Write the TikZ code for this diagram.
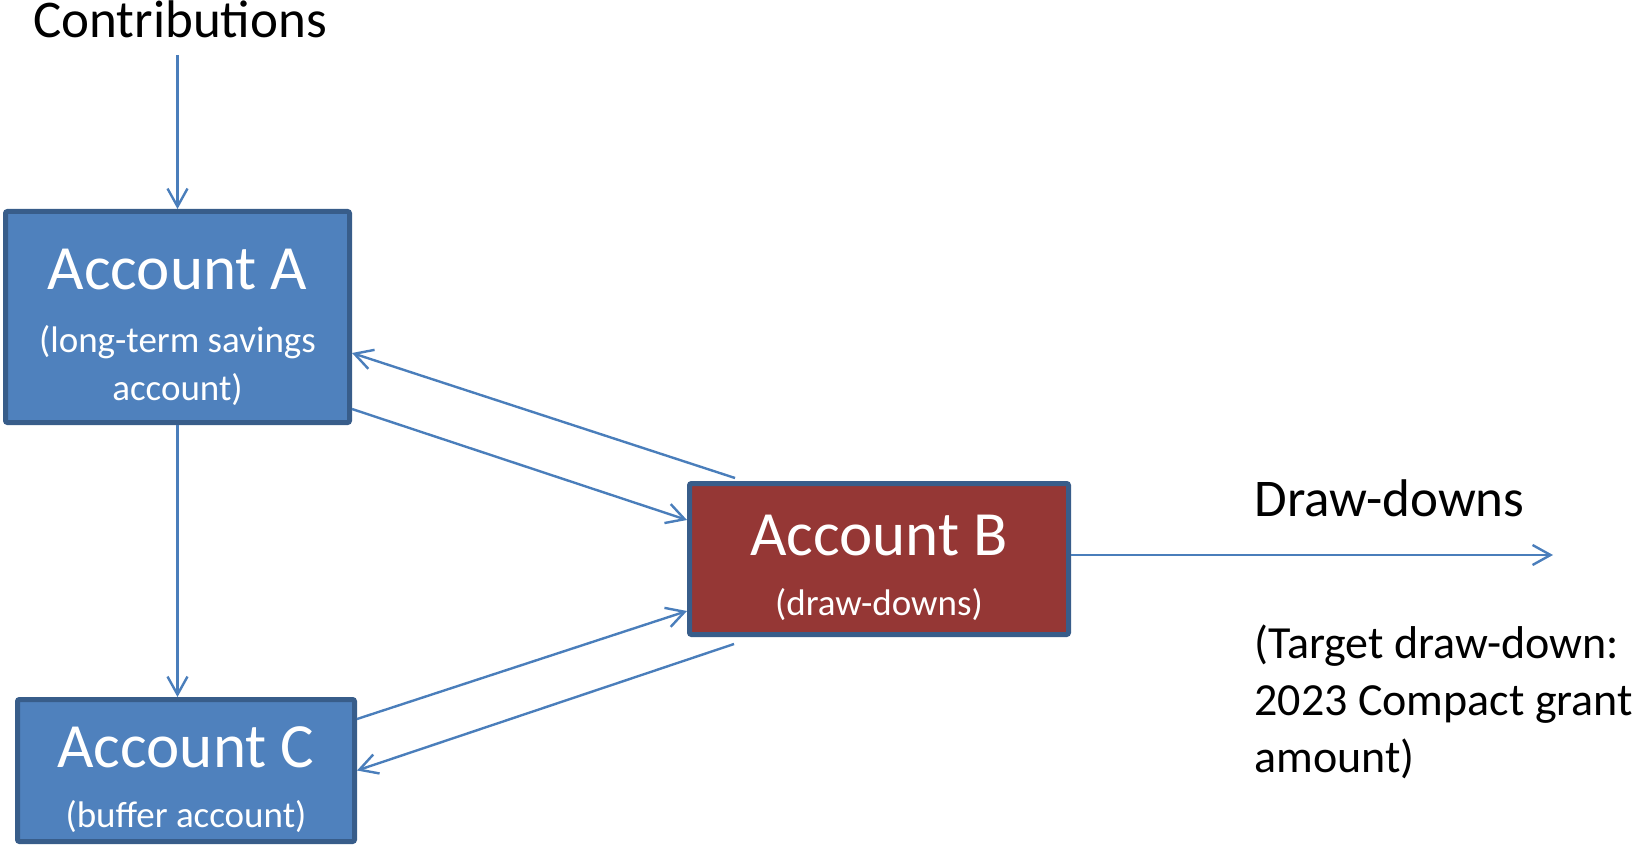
\documentclass[tikz,border=0pt]{standalone}
\usepackage{fontspec}
\setmainfont{Carlito}
\usepackage{xcolor}
\usetikzlibrary{arrows.meta,calc}
\definecolor{acctblue}{HTML}{4F81BD}
\definecolor{acctred}{HTML}{953735}
\definecolor{edgeblue}{HTML}{385D8A}
\definecolor{flowblue}{HTML}{4A7EBB}

\begin{document}
\begin{tikzpicture}[x=0.5pt,y=-0.5pt,
  >={Straight Barb[length=9pt,width=10pt]},
  account/.style={draw=edgeblue,line width=2.5pt,rounded corners=1pt,inner sep=0pt},
  flow/.style={->,draw=flowblue,line width=1.2pt},
  acctname/.style={text=white,font=\fontsize{31.5}{38}\selectfont,inner sep=0pt,anchor=base},
  acctnote/.style={text=white,font=\fontsize{18.5}{24}\selectfont,inner sep=0pt,anchor=base,align=center},
  sidetext/.style={font=\fontsize{26.5}{32}\selectfont,inner sep=0pt,anchor=base west}]
\useasboundingbox (0,0) rectangle (1648,845);

% the three accounts
\node[account,fill=acctblue,minimum width=172pt,minimum height=105.5pt] (A) at (177.5,317) {};
\node[account,fill=acctred,minimum width=189.5pt,minimum height=75.5pt] (B) at (879,559) {};
\node[account,fill=acctblue,minimum width=168.5pt,minimum height=71pt] (C) at (186,770.5) {};

% (base of a two-line note is its last line)
\node[acctname] (Aname) at (177.5,290) {Account A};
\node[acctnote] (Anote) at (177.5,400) {(long-term savings\\account)};
\node[acctname] (Bname) at (879,555) {Account B};
\node[acctnote] (Bnote) at (879,615) {(draw-downs)};
\node[acctname] (Cname) at (186,767) {Account C};
\node[acctnote] (Cnote) at (186,827) {(buffer account)};

% texts outside
\node[sidetext] (contrib) at (33,38) {Contributions};
\node[sidetext] (draws) at (1254,516) {Draw-downs};
\node[sidetext,font=\fontsize{23}{28.5}\selectfont,align=left] (target) at (1254,772)
  {(Target draw-down:\\2023 Compact grant\\amount)};

% flows
\coordinate (in) at (177.5,55);
\coordinate (out) at (1553,555);
\draw[flow] (in) -- (A.north);
\draw[flow] (A.south) -- (A.south |- C.north);
\draw[flow] ($(B.north west)+(48,-3)$) -- ($(A.east)+(0,36)$);
\draw[flow] ($(A.east)+(0,92)$) -- ($(B.west)+(0,-39)$);
\draw[flow] ($(C.east)+(0,-51.5)$) -- ($(B.west)+(0,52)$);
\draw[flow] ($(B.south west)+(47,7)$) -- (C.east);
\draw[flow] (B.east |- out) -- (out);
\end{tikzpicture}
\end{document}
